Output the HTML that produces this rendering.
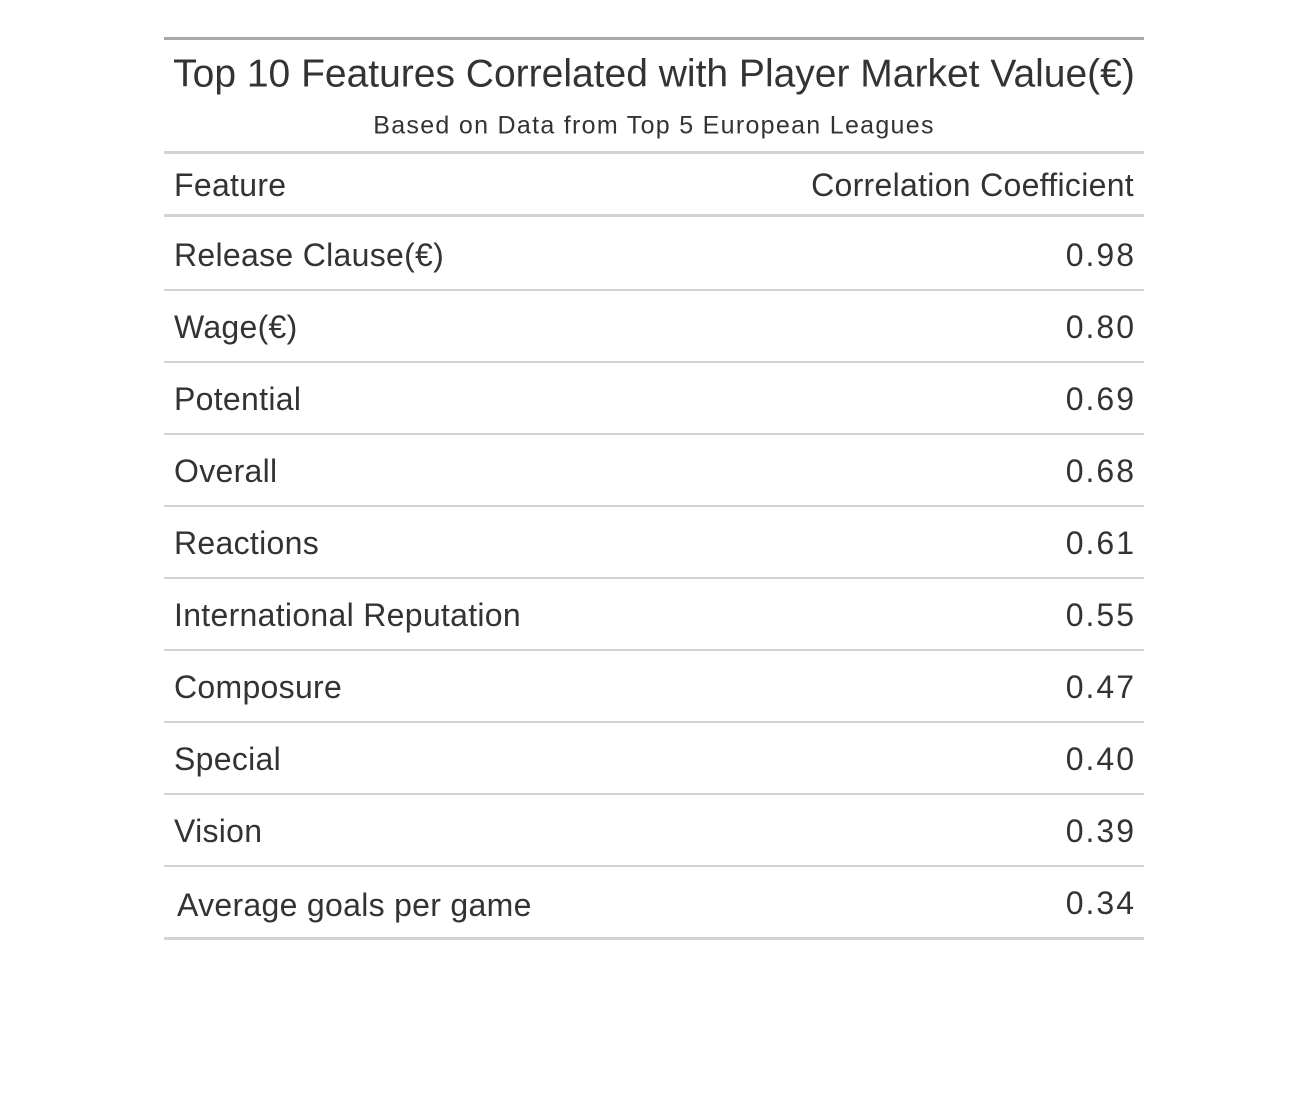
<!DOCTYPE html>
<html><head><meta charset="utf-8">
<style>
body{margin:0;background:#fff;width:1304px;height:1108px;position:relative;font-family:"Liberation Sans",sans-serif;color:#333;overflow:hidden}
.line{position:absolute;left:164px;width:980px}
.txt{position:absolute;white-space:nowrap;line-height:1;transform:translateY(-50%)}
</style></head><body>
<div class="line" style="top:37px;height:3px;background:#A8A8A8"></div>
<div class="txt" style="left:0;width:1308px;text-align:center;top:74px;font-size:39px">Top 10 Features Correlated with Player Market Value(€)</div>
<div class="txt" style="left:0;width:1308px;text-align:center;top:126px;font-size:25px;letter-spacing:1.3px">Based on Data from Top 5 European Leagues</div>
<div class="line" style="top:151px;height:3px;background:#D3D3D3"></div>
<div class="txt" style="left:174px;top:185px;font-size:32px;letter-spacing:0.3px">Feature</div>
<div class="txt" style="right:170px;top:185px;font-size:32px;letter-spacing:0.3px">Correlation Coefficient</div>
<div class="line" style="top:214px;height:3px;background:#D3D3D3"></div>
<div id="rows"></div>
<script>
const features=["Release Clause(€)","Wage(€)","Potential","Overall","Reactions","International Reputation","Composure","Special","Vision","Average goals per game"];
const values=[0.98,0.80,0.69,0.68,0.61,0.55,0.47,0.40,0.39,0.34];
const rows=document.getElementById('rows');
features.forEach((f,i)=>{
  const cy=255+i*72;
  const last=i===features.length-1;
  const a=document.createElement('div');
  a.className='txt';
  
  
  a.style.cssText=`left:${last?177:174}px;top:${last?905:cy}px;font-size:32px;letter-spacing:0.3px`;
  a.textContent=f;rows.appendChild(a);
  const b=document.createElement('div');
  b.className='txt';
  
  
  b.style.cssText=`right:168px;top:${last?903:cy}px;font-size:32px;letter-spacing:2px`;
  b.textContent=values[i].toFixed(2);rows.appendChild(b);
  const l=document.createElement('div');
  l.className='line';
  
  
  l.style.cssText=last?`top:${289+i*72}px;height:3px;background:#D3D3D3`:`top:${289+i*72}px;height:2px;background:#D3D3D3`;
  rows.appendChild(l);
});
</script>
</body></html>
